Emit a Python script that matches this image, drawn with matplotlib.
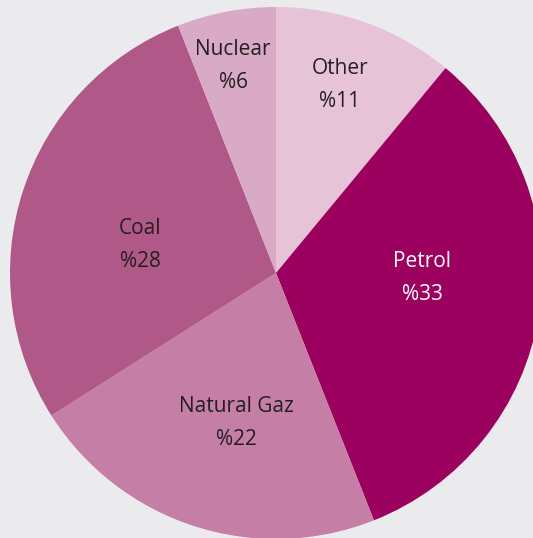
import matplotlib.pyplot as plt

labels = ['Other', 'Petrol', 'Natural Gaz', 'Coal', 'Nuclear']
shares = [11, 33, 22, 28, 6]
colors = ['#e7c3d7', '#9b005f', '#c57fa6', '#b05988', '#d9aac6']
text_colors = ['#231f20', 'white', '#231f20', '#231f20', '#231f20']
# label offsets from the pie centre, in pixels
label_pos = [(64, 188), (146, -5), (-40, -150), (-136, 28), (-43, 207)]

cx, cy, R = 276, 265, 266

fig = plt.figure(figsize=(5.33, 5.38), dpi=100)
fig.patch.set_facecolor('#ebebed')
ax = fig.add_axes([0, 0, 1, 1])
ax.set_facecolor('#ebebed')

wedges, _ = ax.pie(shares, colors=colors, startangle=90, counterclock=False,
                   center=(cx, cy), radius=R, frame=True)

for lab, val, (dx, dy), tc in zip(labels, shares, label_pos, text_colors):
    ax.text(cx + dx, cy + dy, f'{lab}\n%{val}', ha='center', va='center',
            fontsize=15, family='Open Sans', color=tc, linespacing=1.8)

ax.set_xlim(0, 533)
ax.set_ylim(0, 538)
ax.axis('off')
plt.savefig('out.png', dpi=100, facecolor=fig.get_facecolor())
